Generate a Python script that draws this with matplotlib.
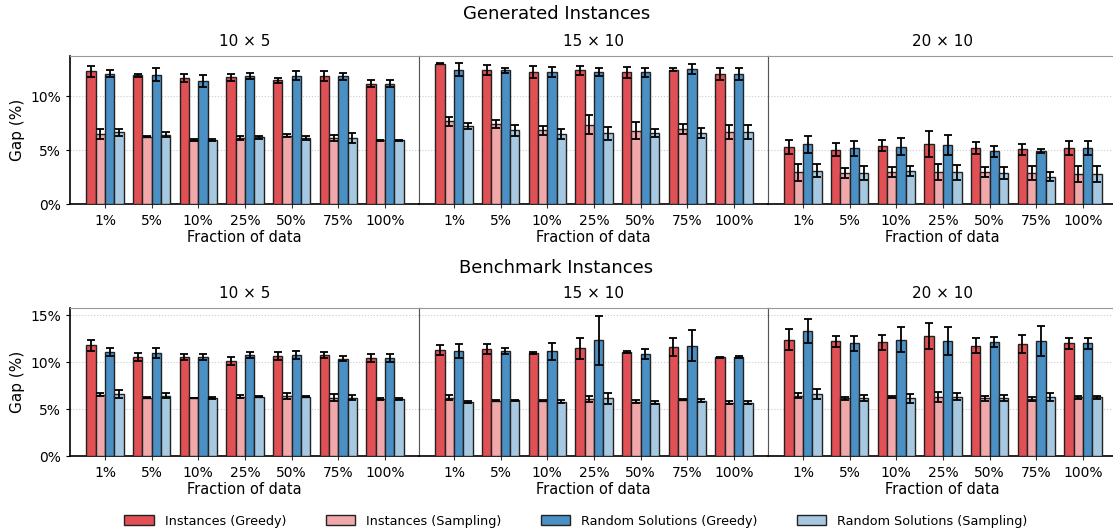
import numpy as np
import matplotlib
matplotlib.use("Agg")
import matplotlib.pyplot as plt
from matplotlib.patches import Patch
from matplotlib.ticker import FuncFormatter

fractions = ["1%", "5%", "10%", "25%", "50%", "75%", "100%"]
sizes = ["10 × 5", "15 × 10", "20 × 10"]
series_names = ["Instances (Greedy)", "Instances (Sampling)",
                "Random Solutions (Greedy)", "Random Solutions (Sampling)"]
series_colors = ["#e05054", "#f0a8aa", "#4a90c4", "#a6c8e0"]

# ---- Generated instances: mean gap (%) and error per series ----
gen_10x5_inst_greedy = [12.33, 11.96, 11.71, 11.77, 11.49, 11.86, 11.18]
gen_10x5_inst_greedy_err = [0.50, 0.15, 0.40, 0.30, 0.25, 0.45, 0.30]
gen_10x5_inst_sampling = [6.52, 6.27, 5.96, 6.12, 6.34, 6.12, 5.90]
gen_10x5_inst_sampling_err = [0.45, 0.05, 0.10, 0.20, 0.15, 0.30, 0.08]
gen_10x5_rs_greedy = [12.11, 11.99, 11.40, 11.89, 11.93, 11.86, 11.18]
gen_10x5_rs_greedy_err = [0.30, 0.60, 0.55, 0.25, 0.45, 0.35, 0.30]
gen_10x5_rs_sampling = [6.65, 6.43, 5.96, 6.18, 6.15, 6.12, 5.90]
gen_10x5_rs_sampling_err = [0.35, 0.25, 0.10, 0.12, 0.20, 0.45, 0.08]

gen_15x10_inst_greedy = [13.04, 12.42, 12.24, 12.42, 12.24, 12.48, 12.05]
gen_15x10_inst_greedy_err = [0.05, 0.45, 0.55, 0.40, 0.50, 0.15, 0.55]
gen_15x10_inst_sampling = [7.67, 7.45, 6.83, 7.36, 6.80, 6.96, 6.65]
gen_15x10_inst_sampling_err = [0.40, 0.35, 0.45, 0.90, 0.80, 0.45, 0.65]
gen_15x10_rs_greedy = [12.48, 12.42, 12.27, 12.24, 12.24, 12.55, 12.05]
gen_15x10_rs_greedy_err = [0.60, 0.25, 0.50, 0.35, 0.40, 0.45, 0.55]
gen_15x10_rs_sampling = [7.27, 6.83, 6.49, 6.58, 6.58, 6.58, 6.65]
gen_15x10_rs_sampling_err = [0.30, 0.50, 0.45, 0.60, 0.35, 0.45, 0.65]

gen_20x10_inst_greedy = [5.28, 5.03, 5.43, 5.59, 5.22, 5.09, 5.19]
gen_20x10_inst_greedy_err = [0.65, 0.60, 0.50, 1.20, 0.55, 0.50, 0.65]
gen_20x10_inst_sampling = [2.95, 2.86, 2.95, 2.95, 2.98, 2.86, 2.80]
gen_20x10_inst_sampling_err = [0.80, 0.45, 0.45, 0.75, 0.50, 0.65, 0.75]
gen_20x10_rs_greedy = [5.53, 5.19, 5.34, 5.50, 4.91, 4.91, 5.19]
gen_20x10_rs_greedy_err = [0.80, 0.70, 0.75, 0.95, 0.50, 0.20, 0.65]
gen_20x10_rs_sampling = [3.07, 2.92, 3.07, 2.95, 2.86, 2.55, 2.80]
gen_20x10_rs_sampling_err = [0.60, 0.65, 0.50, 0.70, 0.55, 0.40, 0.72]

# ---- Benchmark instances ----
bench_10x5_inst_greedy = [11.77, 10.52, 10.52, 10.13, 10.66, 10.77, 10.42]
bench_10x5_inst_greedy_err = [0.55, 0.40, 0.30, 0.40, 0.45, 0.30, 0.40]
bench_10x5_inst_sampling = [6.51, 6.22, 6.15, 6.33, 6.40, 6.22, 6.04]
bench_10x5_inst_sampling_err = [0.15, 0.03, 0.03, 0.15, 0.30, 0.40, 0.10]
bench_10x5_rs_greedy = [11.06, 10.95, 10.52, 10.74, 10.77, 10.34, 10.42]
bench_10x5_rs_greedy_err = [0.40, 0.55, 0.30, 0.30, 0.45, 0.25, 0.40]
bench_10x5_rs_sampling = [6.58, 6.43, 6.15, 6.33, 6.29, 6.22, 6.04]
bench_10x5_rs_sampling_err = [0.45, 0.30, 0.08, 0.05, 0.05, 0.30, 0.10]

bench_15x10_inst_greedy = [11.30, 11.41, 10.95, 11.45, 11.06, 11.59, 10.49]
bench_15x10_inst_greedy_err = [0.50, 0.55, 0.10, 1.10, 0.15, 0.95, 0.05]
bench_15x10_inst_sampling = [6.22, 5.87, 5.90, 6.04, 5.79, 6.01, 5.69]
bench_15x10_inst_sampling_err = [0.25, 0.05, 0.10, 0.30, 0.15, 0.05, 0.20]
bench_15x10_rs_greedy = [11.13, 11.20, 11.13, 12.30, 10.88, 11.73, 10.49]
bench_15x10_rs_greedy_err = [0.75, 0.30, 0.90, 2.65, 0.55, 1.65, 0.10]
bench_15x10_rs_sampling = [5.79, 5.94, 5.79, 6.15, 5.69, 5.90, 5.69]
bench_15x10_rs_sampling_err = [0.10, 0.05, 0.20, 0.60, 0.15, 0.15, 0.20]

bench_20x10_inst_greedy = [12.37, 12.19, 12.12, 12.80, 11.73, 11.94, 11.98]
bench_20x10_inst_greedy_err = [1.10, 0.60, 0.80, 1.40, 0.80, 0.95, 0.55]
bench_20x10_inst_sampling = [6.43, 6.15, 6.29, 6.26, 6.15, 6.08, 6.26]
bench_20x10_inst_sampling_err = [0.25, 0.15, 0.10, 0.50, 0.25, 0.20, 0.15]
bench_20x10_rs_greedy = [13.30, 11.98, 12.37, 12.26, 12.16, 12.23, 11.98]
bench_20x10_rs_greedy_err = [1.30, 0.80, 1.35, 1.50, 0.55, 1.60, 0.55]
bench_20x10_rs_sampling = [6.58, 6.15, 6.15, 6.33, 6.15, 6.29, 6.26]
bench_20x10_rs_sampling_err = [0.50, 0.30, 0.50, 0.40, 0.35, 0.40, 0.15]

rows = [
    ("Generated Instances", 13.75, [0, 5, 10], [
        [(gen_10x5_inst_greedy, gen_10x5_inst_greedy_err),
         (gen_10x5_inst_sampling, gen_10x5_inst_sampling_err),
         (gen_10x5_rs_greedy, gen_10x5_rs_greedy_err),
         (gen_10x5_rs_sampling, gen_10x5_rs_sampling_err)],
        [(gen_15x10_inst_greedy, gen_15x10_inst_greedy_err),
         (gen_15x10_inst_sampling, gen_15x10_inst_sampling_err),
         (gen_15x10_rs_greedy, gen_15x10_rs_greedy_err),
         (gen_15x10_rs_sampling, gen_15x10_rs_sampling_err)],
        [(gen_20x10_inst_greedy, gen_20x10_inst_greedy_err),
         (gen_20x10_inst_sampling, gen_20x10_inst_sampling_err),
         (gen_20x10_rs_greedy, gen_20x10_rs_greedy_err),
         (gen_20x10_rs_sampling, gen_20x10_rs_sampling_err)],
    ]),
    ("Benchmark Instances", 15.75, [0, 5, 10, 15], [
        [(bench_10x5_inst_greedy, bench_10x5_inst_greedy_err),
         (bench_10x5_inst_sampling, bench_10x5_inst_sampling_err),
         (bench_10x5_rs_greedy, bench_10x5_rs_greedy_err),
         (bench_10x5_rs_sampling, bench_10x5_rs_sampling_err)],
        [(bench_15x10_inst_greedy, bench_15x10_inst_greedy_err),
         (bench_15x10_inst_sampling, bench_15x10_inst_sampling_err),
         (bench_15x10_rs_greedy, bench_15x10_rs_greedy_err),
         (bench_15x10_rs_sampling, bench_15x10_rs_sampling_err)],
        [(bench_20x10_inst_greedy, bench_20x10_inst_greedy_err),
         (bench_20x10_inst_sampling, bench_20x10_inst_sampling_err),
         (bench_20x10_rs_greedy, bench_20x10_rs_greedy_err),
         (bench_20x10_rs_sampling, bench_20x10_rs_sampling_err)],
    ]),
]

W, H = 1113, 531
fig = plt.figure(figsize=(W / 100, H / 100), dpi=100)

panel_left = 70
panel_w = 349
panel_h = 148
row_tops = [56, 308]
row_title_y = [14, 268]

x = np.arange(len(fractions))
bar_w = 0.2
offsets = (np.arange(4) - 1.5) * bar_w
pct = FuncFormatter(lambda v, _: f"{v:g}%")

for r, (row_title, ytop, yticks, panels) in enumerate(rows):
    fig.text(0.5, 1 - row_title_y[r] / H, row_title, ha="center", va="center",
             fontsize=13)
    for c, series in enumerate(panels):
        left = panel_left + c * panel_w
        ax = fig.add_axes([left / W, 1 - (row_tops[r] + panel_h) / H,
                           panel_w / W, panel_h / H])
        for k, (vals, errs) in enumerate(series):
            ax.bar(x + offsets[k], vals, bar_w, yerr=errs,
                   color=series_colors[k], edgecolor="#222222", linewidth=1.0,
                   error_kw=dict(ecolor="black", elinewidth=1.3, capsize=3,
                                 capthick=1.3),
                   zorder=3)
        ax.set_xlim(-0.75, 6.73)
        ax.set_ylim(0, ytop)
        ax.set_yticks(yticks)
        ax.yaxis.set_major_formatter(pct)
        ax.grid(axis="y", color="#cccccc", linestyle=":", linewidth=0.8,
                zorder=0)
        ax.set_xticks(x)
        ax.set_xticklabels(fractions, fontsize=10)
        ax.tick_params(axis="x", length=3, color="#333333", pad=4)
        ax.set_xlabel("Fraction of data", fontsize=10.5, labelpad=2)
        ax.set_title(sizes[c], fontsize=11, pad=7)
        for side in ("top", "right"):
            ax.spines[side].set_color("#999999")
        ax.spines["bottom"].set_color("black")
        ax.spines["bottom"].set_linewidth(1.2)
        if c == 0:
            ax.spines["left"].set_color("black")
            ax.spines["left"].set_linewidth(1.2)
            ax.tick_params(axis="y", labelsize=10, length=3)
            ax.set_ylabel("Gap (%)", fontsize=11)
        else:
            ax.spines["left"].set_color("#555555")
            ax.tick_params(axis="y", left=False, labelleft=False)

handles = [Patch(facecolor=col, edgecolor="#222222", linewidth=1.0)
           for col in series_colors]
fig.legend(handles, series_names, loc="center", ncol=4,
           bbox_to_anchor=(0.5175, 1 - 521 / H), frameon=False, fontsize=9.2,
           handlelength=2.3, handleheight=0.9, handletextpad=0.85,
           columnspacing=3.1)

fig.savefig("out.png", dpi=100)
